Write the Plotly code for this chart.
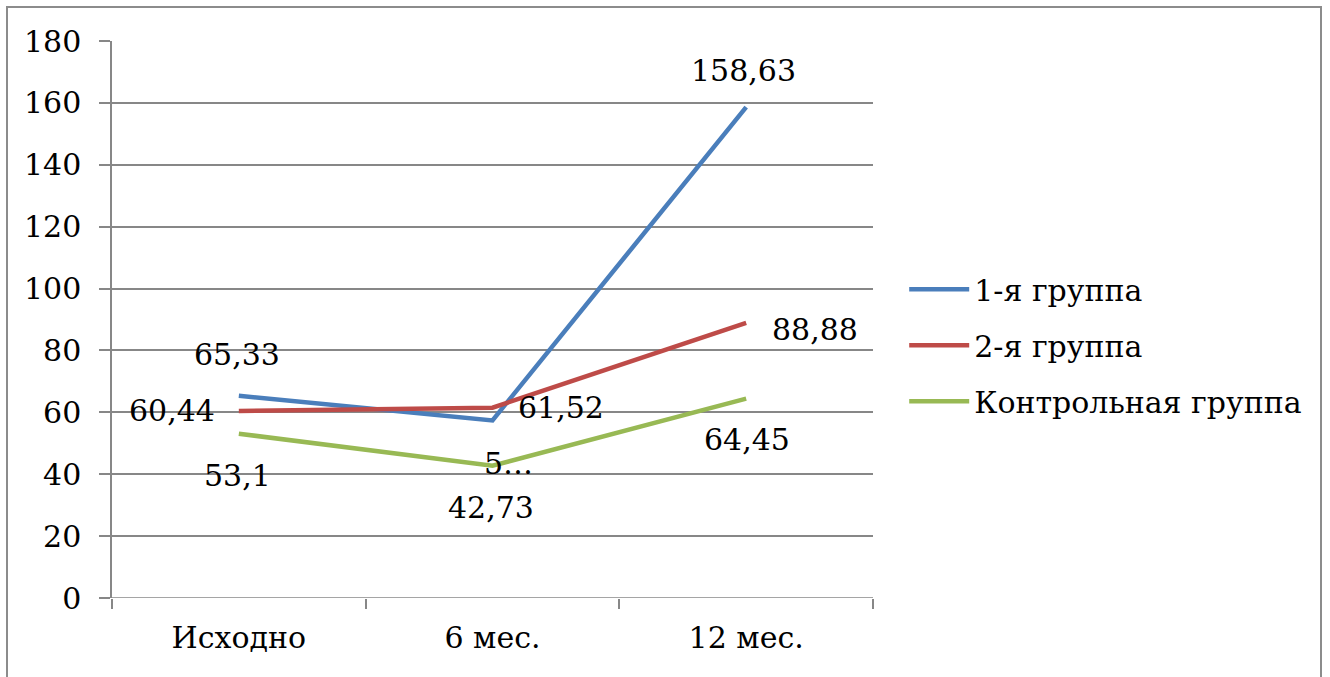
import plotly.graph_objects as go

# Time points and group measurements
periods = ["Исходно", "6 мес.", "12 мес."]
group1 = [65.33, 57.4, 158.63]
group2 = [60.44, 61.52, 88.88]
control = [53.1, 42.73, 64.45]

series_names = ["1-я группа", "2-я группа", "Контрольная группа"]
series_colors = ["#4A7EBB", "#BE4B48", "#98B954"]

# Data-label text (the 6-month label of group 1 is shown truncated)
labels1 = ["65,33", "5…", "158,63"]
labels2 = ["60,44", "61,52", "88,88"]
labels3 = ["53,1", "42,73", "64,45"]

# Label placement per point: (xanchor, yanchor, xshift, yshift)
place1 = [("center", "middle", -2, 41), ("center", "middle", 16, -43), ("center", "middle", -3, 37)]
place2 = [("right", "middle", -22, 0), ("left", "middle", 23, 0), ("left", "middle", 24, -7)]
place3 = [("center", "middle", -1, -42), ("center", "middle", -2, -42), ("center", "middle", 1, -41)]

FONT = "DejaVu Serif"
FS = 30

fig = go.Figure()
annotations = []
for name, color, values, texts, places in zip(
    series_names, series_colors, [group1, group2, control],
    [labels1, labels2, labels3], [place1, place2, place3]):
    fig.add_trace(go.Scatter(
        x=periods, y=values, name=name, mode="lines",
        line=dict(color=color, width=4.5),
        legendgroup=name,
    ))
    for p, v, t, (xa, ya, xs, ys) in zip(periods, values, texts, places):
        annotations.append(dict(
            x=p, y=v, xref="x", yref="y", text=t, showarrow=False,
            xanchor=xa, yanchor=ya, xshift=xs, yshift=ys,
            font=dict(family=FONT, size=FS, color="black"),
        ))

grid_color = "#878787"

fig.update_layout(
    width=1330, height=677,
    margin=dict(l=112, r=457, t=41, b=79),
    paper_bgcolor="white", plot_bgcolor="white",
    font=dict(family=FONT, size=FS, color="black"),
    showlegend=True,
    legend=dict(
        x=1.041, y=0.601, xanchor="left", yanchor="top",
        font=dict(family=FONT, size=FS, color="black"),
        tracegroupgap=14, itemwidth=60,
        bgcolor="rgba(0,0,0,0)",
    ),
    annotations=annotations,
    xaxis=dict(
        type="category", range=[-0.5, 2.5],
        showgrid=False, zeroline=False,
        showline=False,
        ticks="outside", tickson="boundaries", ticklen=10,
        tickcolor=grid_color, tickwidth=1.5,
        ticklabelstandoff=19,
        tickfont=dict(family=FONT, size=FS, color="black"),
    ),
    yaxis=dict(
        range=[0, 180], dtick=20,
        showgrid=True, gridcolor=grid_color, gridwidth=1.5,
        zeroline=False,
        showline=True, linecolor=grid_color, linewidth=1.5,
        ticks="outside", ticklen=11, tickcolor=grid_color, tickwidth=1.5,
        ticklabelstandoff=12,
        tickfont=dict(family=FONT, size=FS, color="black"),
    ),
    shapes=[
        # baseline at zero
        dict(type="line", xref="paper", yref="y", x0=0, x1=1, y0=0, y1=0,
             line=dict(color=grid_color, width=1.5)),
        # outer frame
        dict(type="rect", xref="paper", yref="paper",
             x0=(7 - 112) / 761, x1=(1321 - 112) / 761,
             y0=-0.2, y1=(598 - 7) / 557,
             line=dict(color="#8c8c8c", width=2), layer="below"),
    ],
)

fig.write_html("out.html")
